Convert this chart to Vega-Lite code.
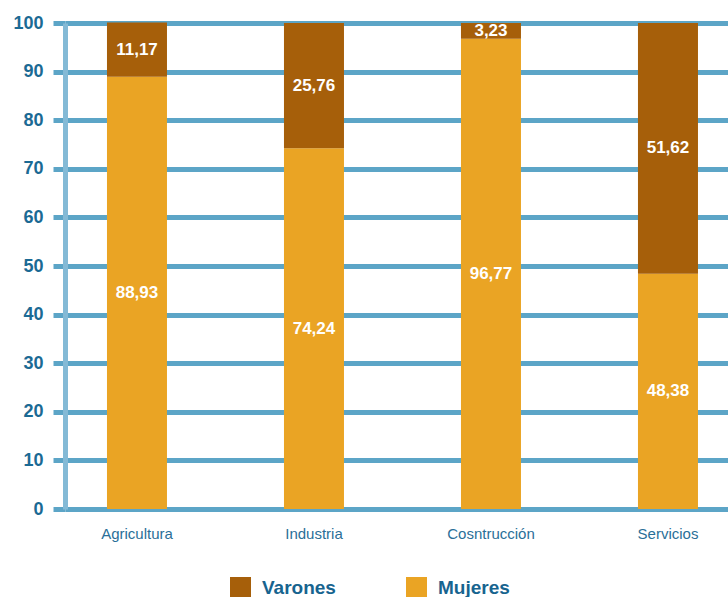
{
  "$schema": "https://vega.github.io/schema/vega-lite/v6.json",
  "width": 663,
  "height": 486,
  "autosize": {"type": "none"},
  "padding": {"left": 65, "top": 23, "right": 0, "bottom": 88},
  "background": "white",
  "config": {"view": {"stroke": null}, "font": "Liberation Sans"},
  "data": {
    "values": [
      {"sector": "Agricultura", "sexo": "Mujeres", "value": 88.93, "label": "88,93"},
      {"sector": "Agricultura", "sexo": "Varones", "value": 11.17, "label": "11,17"},
      {"sector": "Industria", "sexo": "Mujeres", "value": 74.24, "label": "74,24"},
      {"sector": "Industria", "sexo": "Varones", "value": 25.76, "label": "25,76"},
      {"sector": "Cosntrucción", "sexo": "Mujeres", "value": 96.77, "label": "96,77"},
      {"sector": "Cosntrucción", "sexo": "Varones", "value": 3.23, "label": "3,23"},
      {"sector": "Servicios", "sexo": "Mujeres", "value": 48.38, "label": "48,38"},
      {"sector": "Servicios", "sexo": "Varones", "value": 51.62, "label": "51,62"}
    ]
  },
  "encoding": {
    "x": {
      "field": "sector",
      "type": "nominal",
      "sort": ["Agricultura", "Industria", "Cosntrucción", "Servicios"],
      "scale": {"paddingInner": 0.661, "paddingOuter": 0.2034, "align": 0.583},
      "axis": {
        "title": null,
        "labelAngle": 0,
        "domain": false,
        "ticks": false,
        "grid": false,
        "labelFont": "Liberation Sans",
        "labelFontSize": 15,
        "labelColor": "#2a6f98",
        "labelPadding": 17
      }
    }
  },
  "layer": [
    {
      "mark": {"type": "bar"},
      "encoding": {
        "y": {
          "field": "value",
          "type": "quantitative",
          "stack": "zero",
          "scale": {"domain": [0, 100], "nice": false},
          "axis": {
            "title": null,
            "values": [0, 10, 20, 30, 40, 50, 60, 70, 80, 90, 100],
            "grid": true,
            "gridColor": "#5ca5c7",
            "gridWidth": 5,
            "gridOpacity": 1,
            "ticks": true,
            "tickSize": 12,
            "tickWidth": 5,
            "tickColor": "#5ca5c7",
            "domain": true,
            "domainColor": "#84bad6",
            "domainWidth": 5,
            "labelFont": "Liberation Sans",
            "labelFontWeight": "bold",
            "labelFontSize": 18,
            "labelColor": "#1b6a94",
            "labelPadding": 10
          }
        },
        "color": {
          "field": "sexo",
          "type": "nominal",
          "scale": {"domain": ["Varones", "Mujeres"], "range": ["#a65f0a", "#eaa424"]},
          "legend": {
            "title": null,
            "orient": "none",
            "direction": "horizontal",
            "legendX": 165,
            "legendY": 554,
            "symbolType": "square",
            "symbolSize": 441,
            "symbolStrokeWidth": 0,
            "symbolOpacity": 1,
            "labelFont": "Liberation Sans",
            "labelFontWeight": "bold",
            "labelFontSize": 19,
            "labelColor": "#17648f",
            "labelOffset": 11,
            "columnPadding": 70,
            "padding": 0
          }
        },
        "order": {"field": "sexo", "sort": "ascending"}
      }
    },
    {
      "mark": {"type": "text", "color": "white", "fontWeight": "bold", "fontSize": 17, "font": "Liberation Sans", "baseline": "middle"},
      "encoding": {
        "y": {"field": "value", "type": "quantitative", "stack": "zero", "bandPosition": 0.5},
        "detail": {"field": "sexo"},
        "order": {"field": "sexo", "sort": "ascending"},
        "text": {"field": "label"}
      }
    }
  ]
}
